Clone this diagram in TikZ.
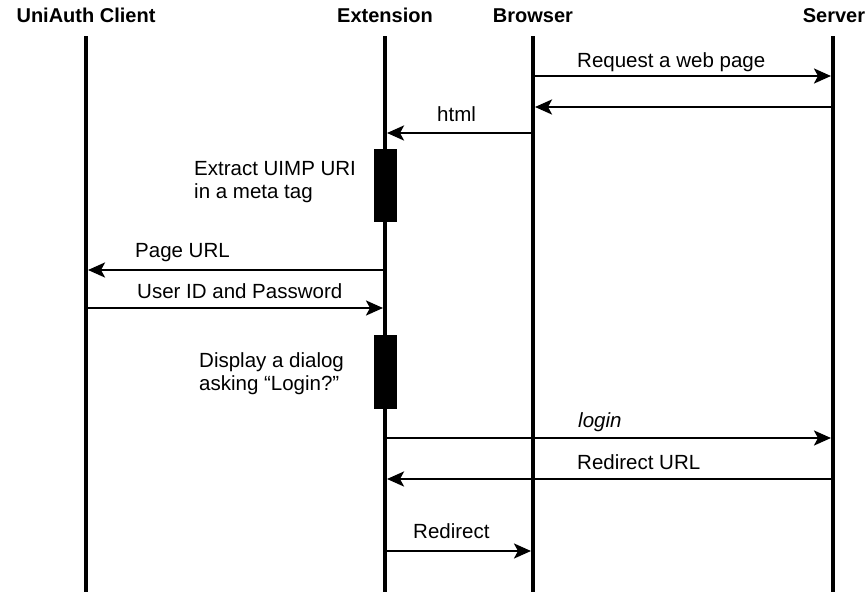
\documentclass[tikz,border=0pt]{standalone}
\usepackage{fontspec}
\setmainfont{Liberation Sans}
\usetikzlibrary{arrows.meta}
\begin{document}
\begin{tikzpicture}[x=1pt,y=-1pt,
  lifeline/.style={line width=4pt},
  msg/.style={line width=2.6pt,-{Stealth[length=17pt,width=15pt,inset=4pt]}},
  lbl/.style={anchor=base west,inner sep=0pt,font=\fontsize{20.5}{22.5}\selectfont},
  ttl/.style={anchor=base,inner sep=0pt,font=\fontsize{20}{22}\selectfont\bfseries},
  actbox/.style={fill=black,draw=black,line width=0.6pt}]
\useasboundingbox (0,0) rectangle (868,592);
% titles
\node[ttl] (tcli) at (86,22.7) {UniAuth Client};
\node[ttl] (text) at (385,22.7) {Extension};
\node[ttl] (tbro) at (533,22.7) {Browser};
\node[ttl] (tsrv) at (834,22.7) {Server};
% lifelines
\coordinate (clitop) at (86,36);  \coordinate (clibot) at (86,592);
\coordinate (exttop) at (385,36); \coordinate (extbot) at (385,592);
\coordinate (brotop) at (533,36); \coordinate (brobot) at (533,592);
\coordinate (srvtop) at (833,36); \coordinate (srvbot) at (833,592);
\draw[lifeline] (clitop) -- (clibot);
\draw[lifeline] (exttop) -- (extbot);
\draw[lifeline] (brotop) -- (brobot);
\draw[lifeline] (srvtop) -- (srvbot);
% activation boxes
\node[actbox,inner sep=0pt,minimum width=22pt,minimum height=72pt] (act1) at (385,185) {};
\node[actbox,inner sep=0pt,minimum width=22pt,minimum height=73pt] (act2) at (385.5,371.5) {};
% message endpoints
\coordinate (m1s) at (533,76);  \coordinate (m1e) at (831,76);
\coordinate (m2s) at (833,107); \coordinate (m2e) at (535,107);
\coordinate (m3s) at (533,133); \coordinate (m3e) at (387,133);
\coordinate (m4s) at (385,270); \coordinate (m4e) at (88,270);
\coordinate (m5s) at (86,308);  \coordinate (m5e) at (383,308);
\coordinate (m6s) at (385,438); \coordinate (m6e) at (831,438);
\coordinate (m7s) at (833,479); \coordinate (m7e) at (387,479);
\coordinate (m8s) at (385,551); \coordinate (m8e) at (531,551);
\draw[msg] (m1s) -- (m1e);
\draw[msg] (m2s) -- (m2e);
\draw[msg] (m3s) -- (m3e);
\draw[msg] (m4s) -- (m4e);
\draw[msg] (m5s) -- (m5e);
\draw[msg] (m6s) -- (m6e);
\draw[msg] (m7s) -- (m7e);
\draw[msg] (m8s) -- (m8e);
% labels
\node[lbl] (l1) at (577,67.7) {Request a web page};
\node[lbl] (l3) at (437,121.7) {html};
\node[lbl] (la1) at (194,175.5) {\begin{tabular}[t]{@{}l@{}}Extract UIMP URI\\in a meta tag\end{tabular}};
\node[lbl] (l4) at (135,257) {Page URL};
\node[lbl] (l5) at (137,298) {User ID and Password};
\node[lbl] (la2) at (199,367.5) {\begin{tabular}[t]{@{}l@{}}Display a dialog\\asking “Login?”\end{tabular}};
\node[lbl,font=\fontsize{20.5}{22.5}\selectfont\itshape] (l6) at (578,427) {login};
\node[lbl] (l7) at (577,469) {Redirect URL};
\node[lbl] (l8) at (413,538) {Redirect};
\end{tikzpicture}
\end{document}
